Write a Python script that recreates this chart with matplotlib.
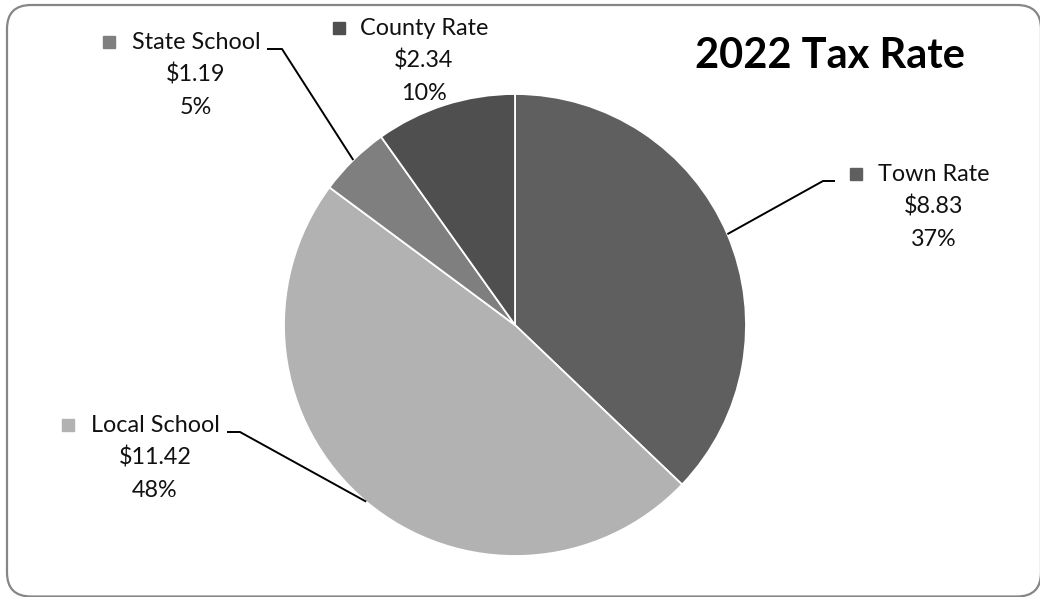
import numpy as np
import matplotlib
matplotlib.use("Agg")
import matplotlib.pyplot as plt
from matplotlib.patches import FancyBboxPatch

# data (clockwise from 12 o'clock)
labels = ["Town Rate", "Local School", "State School", "County Rate"]
rates = [8.83, 11.42, 1.19, 2.34]
colors = ["#5f5f5f", "#b2b2b2", "#7f7f7f", "#4f4f4f"]
title = "2022 Tax Rate"

W, H = 1040, 597
def Y(y):
    # pixel row (from top) -> data y
    return H - y

fig = plt.figure(figsize=(W / 100, H / 100), dpi=100)
ax = fig.add_axes([0, 0, 1, 1])
ax.set_xlim(0, W)
ax.set_ylim(0, H)
ax.set_aspect("equal")
ax.axis("off")

font = "Lato"

# chart border (right and bottom edges sit on the image edge)
ax.add_patch(FancyBboxPatch((7, Y(596.5)), 1034, 591.5,
                            boxstyle="round,pad=0,rounding_size=24",
                            fc="white", ec="#868686", lw=1.6, zorder=0))

cx, cy, r = 515, Y(325), 231
wedges, _ = ax.pie(rates, colors=colors, startangle=90, counterclock=False,
                   center=(cx, cy), radius=r,
                   wedgeprops=dict(edgecolor="white", linewidth=1.3))
ax.set_xlim(0, W)
ax.set_ylim(0, H)

total = sum(rates)

# label block: (text centre x, first baseline row, marker x, elbow x, elbow row, line end x)
label_pos = [
    (934, 181, 856, 835, 181, 823),
    (155, 432, 68, 227, 432, 240),
    (196, 49, 109, 267, 49, 282),
    (424, 35, 339, None, None, None),
]

for w, lab, val, col, pos in zip(wedges, labels, rates, colors, label_pos):
    tx, by, mx, ex, ey, ex2 = pos
    lines = [lab, f"${val:.2f}", f"{val / total:.0%}"]
    for i, s in enumerate(lines):
        ax.text(tx, Y(by + i * 32.5), s, ha="center", va="baseline",
                fontsize=16.8, family=font, color="#111111")
    ax.plot([mx], [Y(by - 7)], marker="s", ms=8.5, color=col, mec=col)
    if ex is not None:
        ang = np.deg2rad((w.theta1 + w.theta2) / 2)
        px, py = cx + r * np.cos(ang), cy + r * np.sin(ang)
        ax.plot([ex, ex2, px], [Y(ey), Y(ey), py], color="black", lw=1.4,
                solid_capstyle="butt")

ax.text(830, Y(68), title, ha="center", va="baseline", fontsize=30,
        fontweight="bold", family=font, color="black")

fig.savefig("out.png", dpi=100, facecolor="white")
